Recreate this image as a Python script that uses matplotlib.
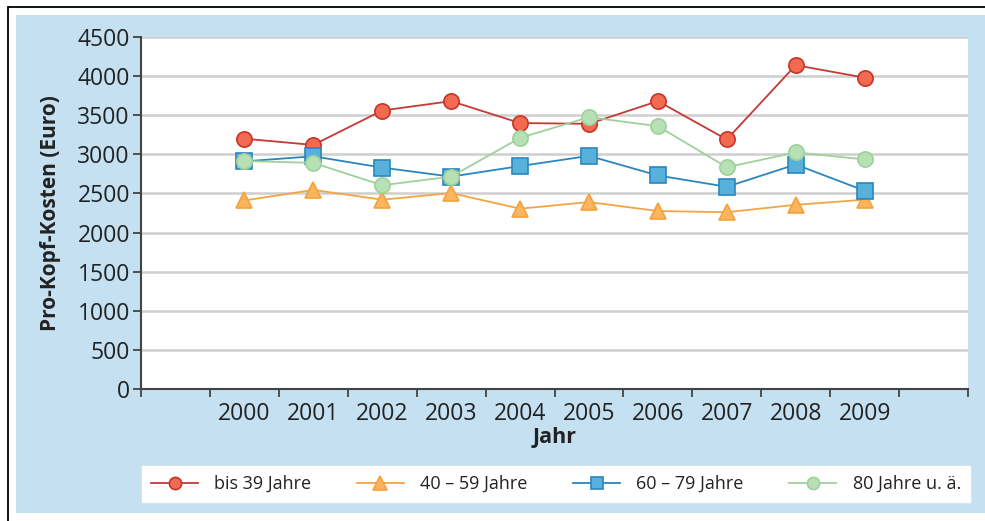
import numpy as np
import matplotlib.pyplot as plt
from matplotlib.patches import Rectangle

# Data
years = ["2000", "2001", "2002", "2003", "2004", "2005", "2006", "2007", "2008", "2009"]
bis_39 = [3200, 3120, 3560, 3680, 3400, 3390, 3680, 3190, 4140, 3980]
j40_59 = [2410, 2545, 2420, 2505, 2305, 2390, 2275, 2260, 2355, 2420]
j60_79 = [2910, 2975, 2830, 2715, 2850, 2980, 2730, 2585, 2870, 2535]
j80_plus = [2915, 2890, 2605, 2715, 3210, 3475, 3360, 2835, 3025, 2935]
labels = ["bis 39 Jahre", "40 – 59 Jahre", "60 – 79 Jahre", "80 Jahre u. ä."]

plt.rcParams['font.family'] = ['Open Sans', 'DejaVu Sans']

W, H = 985, 521
fig = plt.figure(figsize=(W / 100, H / 100), dpi=100)
fig.patch.set_facecolor("white")

# outer frame + light blue panel (behind the axes)
fig.add_artist(Rectangle((8 / W, -0.1), 1.2, (H - 7) / H + 0.1, transform=fig.transFigure,
                         facecolor="white", edgecolor="black", linewidth=1.3, zorder=-20))
fig.add_artist(Rectangle((16 / W, (H - 513) / H), (W - 16) / W, (513 - 15) / H,
                         transform=fig.transFigure, facecolor="#c4e0f1", edgecolor="none",
                         zorder=-10))

ax = fig.add_axes([141 / W, (H - 389) / H, (968 - 141) / W, (389 - 37) / H])
ax.set_facecolor("white")

x = np.arange(len(years))
styles = [
    (bis_39, "o", "#f26a50", "#c9342a", "#c43a35", 11),
    (j40_59, "^", "#fbb55e", "#f3a23e", "#f3a545", 12),
    (j60_79, "s", "#58b1db", "#2a86bd", "#2a86bd", 11),
    (j80_plus, "o", "#b7e0b4", "#9fd19c", "#9fd19c", 11),
]
handles = []
for (vals, m, fc, ec, lc, ms), lab in zip(styles, labels):
    h, = ax.plot(x, vals, color=lc, linewidth=1.3, marker=m, markersize=ms,
                 markerfacecolor=fc, markeredgecolor=ec, markeredgewidth=1.2,
                 label=lab, zorder=3)
    handles.append(h)

ax.set_ylim(0, 4500)
ax.set_yticks(np.arange(0, 4501, 500))
ax.set_xlim(-1.5, 10.5)
ax.set_xticks(np.arange(-1.5, 10.6, 1.0))
ax.set_xticklabels([])
ax.set_xticks(x, minor=True)
ax.set_xticklabels(years, minor=True)
ax.tick_params(axis="x", which="minor", length=0, pad=9, labelsize=16.5, labelcolor="#222222")
ax.tick_params(axis="x", which="major", length=6, width=1.3, color="#444444", direction="out")
ax.tick_params(axis="y", length=6, width=1.3, color="#444444", labelsize=16.5,
               labelcolor="#222222", pad=2)

ax.grid(axis="y", color="#cfcfcf", linewidth=1.8)
ax.set_axisbelow(True)
for s in ["top", "right"]:
    ax.spines[s].set_visible(False)
ax.spines["left"].set_color("#444444")
ax.spines["left"].set_linewidth(1.5)
ax.spines["bottom"].set_color("#444444")
ax.spines["bottom"].set_linewidth(1.5)

ax.set_ylabel("Pro-Kopf-Kosten (Euro)", fontsize=15, fontweight="bold", color="#222222", labelpad=12)
ax.set_xlabel("Jahr", fontsize=15.5, fontweight="bold", color="#222222", labelpad=1)

leg = fig.legend(handles=handles, labels=labels, loc="lower left", ncol=4, mode="expand",
                 bbox_to_anchor=(142 / W, (H - 502) / H, (970 - 142) / W, 36 / H),
                 frameon=True, fancybox=False, fontsize=13, handlelength=2.6,
                 handletextpad=0.9, borderaxespad=0, borderpad=0.5, markerscale=0.8)
leg.get_frame().set_facecolor("white")
leg.get_frame().set_edgecolor("white")
leg.get_frame().set_alpha(1)
for t in leg.get_texts():
    t.set_color("#222222")

fig.savefig("out.png", dpi=100)
